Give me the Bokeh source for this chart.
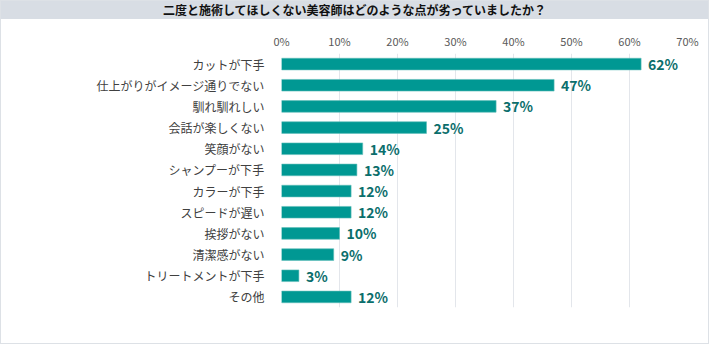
from bokeh.plotting import figure
from bokeh.models import ColumnDataSource, Div, LabelSet, FactorRange
from bokeh.layouts import column
from bokeh.core.properties import value
from bokeh.embed import file_html
from bokeh.resources import INLINE

title_text = "二度と施術してほしくない美容師はどのような点が劣っていましたか？"
categories = ["カットが下手", "仕上がりがイメージ通りでない", "馴れ馴れしい", "会話が楽しくない",
              "笑顔がない", "シャンプーが下手", "カラーが下手", "スピードが遅い",
              "挨拶がない", "清潔感がない", "トリートメントが下手", "その他"]
values = [62, 47, 37, 25, 14, 13, 12, 12, 10, 9, 3, 12]
tick_values = [0, 10, 20, 30, 40, 50, 60, 70]

FONT = "Noto Sans CJK JP"

src = ColumnDataSource(dict(cat=categories, val=values,
                            lab=[f"{v}%" for v in values]))

p = figure(width=707, height=324, output_backend="svg", toolbar_location=None,
           y_range=FactorRange(*reversed(categories)), x_range=(0, 70),
           x_axis_location="above",
           min_border_left=280, min_border_right=21, min_border_top=34,
           min_border_bottom=36)
p.hbar(y="cat", right="val", left=0, height=0.55, source=src,
       fill_color="#009893", line_color="#5fbdb9", line_width=0.6)
p.add_layout(LabelSet(x="val", y="cat", text="lab", source=src, x_offset=7,
                      text_baseline="middle", text_font=value(FONT),
                      text_font_size="14px",
                      text_font_style="bold", text_color="#0b6e6c"))

p.xaxis.ticker = tick_values
p.xaxis.major_label_overrides = {t: f"{t}%" for t in tick_values}
p.xaxis.axis_line_color = None
p.xaxis.major_tick_line_color = None
p.xaxis.minor_tick_line_color = None
p.xaxis.major_tick_out = 0
p.xaxis.major_tick_in = 0
p.xaxis.major_label_standoff = 5
p.xaxis.major_label_text_font = FONT
p.xaxis.major_label_text_font_size = "11px"
p.xaxis.major_label_text_color = "#595959"

p.yaxis.axis_line_color = None
p.yaxis.major_tick_line_color = None
p.yaxis.major_label_standoff = 11
p.yaxis.major_label_text_font = FONT
p.yaxis.major_label_text_font_size = "12px"
p.yaxis.major_label_text_color = "#404040"

p.xgrid.grid_line_color = "#e3e6eb"
p.ygrid.grid_line_color = None
p.outline_line_color = None

div = Div(text=title_text, width=707, height=18,
          styles={"background-color": "#d8dde4", "text-align": "center",
                  "font-weight": "bold", "font-size": "12px", "line-height": "18px",
                  "font-family": FONT, "color": "#111", "width": "707px",
                  "height": "18px", "overflow": "hidden", "margin": "0",
                  "padding": "0"})

layout = column(div, p, spacing=0,
                styles={"border": "1px solid #dde1e6", "gap": "0px"})

open("out.html", "w").write(file_html(layout, INLINE))
